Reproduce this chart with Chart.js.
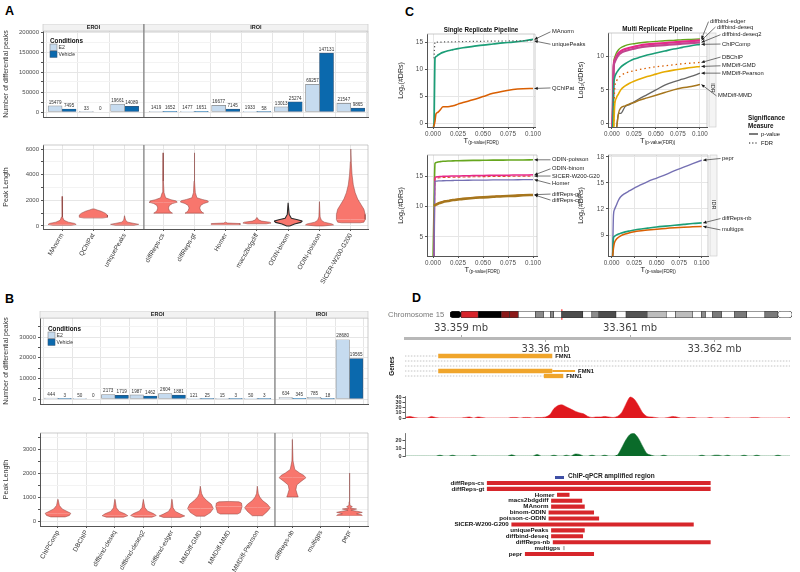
<!DOCTYPE html>
<html>
<head>
<meta charset="utf-8">
<title>Differential peak callers</title>
<script src="https://cdn.jsdelivr.net/npm/chart.js@4.4.1/dist/chart.umd.min.js"></script>
<style>
  body { margin: 0; background: #fff; }
  #page { position: relative; width: 800px; height: 572px; overflow: hidden; font-family: "Liberation Sans", Arial, sans-serif; }
  #page canvas { position: absolute; }
  .tag { position: absolute; font-weight: bold; font-size: 12.5px; line-height: 14px; color: #000; }
  .note { position: absolute; white-space: nowrap; }
</style>
</head>
<body>
<div id="page">
  <div class="tag" style="left:5px;top:4px">A</div>
  <div class="tag" style="left:5px;top:292px">B</div>
  <div class="tag" style="left:405px;top:5px">C</div>
  <div class="tag" style="left:412px;top:291px">D</div>

  <canvas id="aBar" width="373" height="94" style="left:0;top:24px"></canvas>
  <canvas id="aViolin" width="373" height="150" style="left:0;top:140px"></canvas>
  <canvas id="bBar" width="373" height="94" style="left:0;top:311px"></canvas>
  <canvas id="bViolin" width="373" height="144" style="left:0;top:428px"></canvas>

  <canvas id="cSingle" width="205" height="128" style="left:395px;top:18px"></canvas>
  <canvas id="cMulti" width="225" height="136" style="left:575px;top:10px"></canvas>
  <canvas id="cIrLeft" width="205" height="130" style="left:395px;top:145px"></canvas>
  <canvas id="cIrRight" width="225" height="130" style="left:575px;top:145px"></canvas>

  <div class="note" style="left:388px;top:310px;font-size:7.6px;color:#777">Chromosome 15</div>
  <canvas id="dIdeo" width="348" height="11" style="left:448px;top:309px"></canvas>
  <canvas id="dAxis" width="395" height="34" style="left:400px;top:321px"></canvas>
  <canvas id="dGenes" width="410" height="28" style="left:385px;top:352px"></canvas>
  <canvas id="dRed" width="417" height="26" style="left:378px;top:394px"></canvas>
  <canvas id="dGreen" width="417" height="28" style="left:378px;top:430px"></canvas>
  <div style="position:absolute;left:555px;top:476px;width:9px;height:2.5px;background:#3f4fa5"></div>
  <div class="note" style="left:568px;top:472px;font-size:6.5px;font-weight:bold;color:#222">ChIP-qPCR amplified region</div>
  <canvas id="dPeaks" width="415" height="77" style="left:380px;top:480px"></canvas>
</div>
<script>
// ---------- panel A: differential peaks per caller ----------
const aMethods = ['MAnorm', 'QChIPat', 'uniquePeaks', 'diffReps-cs', 'diffReps-gt', 'Homer',
  'macs2bdgdiff', 'ODIN-binom', 'ODIN-poisson', 'SICER-W200-G200'];
const aE2 = [15479, 33, 19661, 1419, 1477, 16677, 1933, 13013, 69257, 21547];
const aVehicle = [7495, 0, 14089, 1652, 1651, 7145, 58, 25274, 147131, 9865];
const aSplit = 3; // first three callers are EROI
// peak length violins: [peak length, half width]
const aViolin = [
  [[60, 0.3], [120, 0.45], [200, 0.4], [300, 0.2], [450, 0.06], [700, 0.02], [1200, 0.008], [2300, 0.003]],
  [[620, 0.3], [680, 0.45], [850, 0.45], [1000, 0.38], [1150, 0.25], [1250, 0.12], [1330, 0.03]],
  [[60, 0.3], [130, 0.45], [200, 0.3], [300, 0.1], [450, 0.03], [800, 0.004]],
  [[1000, 0.3], [1050, 0.26], [1200, 0.2], [1400, 0.17], [1600, 0.2], [1750, 0.3], [1850, 0.45], [1950, 0.42], [2050, 0.25], [2200, 0.08], [2600, 0.03], [3500, 0.012], [5700, 0.003]],
  [[1000, 0.3], [1050, 0.26], [1200, 0.2], [1400, 0.17], [1600, 0.2], [1750, 0.3], [1870, 0.45], [1970, 0.42], [2070, 0.25], [2200, 0.08], [2600, 0.03], [3500, 0.012], [5700, 0.003]],
  [[110, 0.46], [190, 0.46], [230, 0.06], [300, 0.01]],
  [[170, 0.3], [230, 0.45], [300, 0.4], [380, 0.15], [480, 0.05], [650, 0.01]],
  [[0, 0.05], [150, 0.2], [280, 0.4], [380, 0.45], [480, 0.3], [600, 0.1], [900, 0.03], [1800, 0.004]],
  [[0, 0.1], [80, 0.45], [160, 0.4], [300, 0.15], [450, 0.06], [700, 0.02], [1900, 0.003]],
  [[250, 0.3], [300, 0.42], [500, 0.46], [900, 0.46], [1300, 0.42], [1700, 0.32], [2100, 0.22], [2600, 0.14], [3200, 0.08], [4000, 0.04], [5000, 0.015], [6000, 0.003]]
];

// ---------- panel B ----------
const bMethods = ['ChIPComp', 'DBChIP', 'diffbind-deseq', 'diffbind-deseq2', 'diffbind-edger',
  'MMDiff-GMD', 'MMDiff-MMD', 'MMDiff-Pearson', 'diffReps-nb', 'multigps', 'pepr'];
const bE2 = [444, 50, 2173, 1987, 2604, 121, 15, 50, 634, 785, 28680];
const bVehicle = [3, 0, 1719, 1462, 1881, 25, 3, 3, 345, 18, 19565];
const bSplit = 8;
const bViolin = [
  [[170, 0.25], [230, 0.4], [320, 0.45], [400, 0.32], [500, 0.15], [650, 0.05], [900, 0.005]],
  [],
  [[160, 0.3], [220, 0.45], [300, 0.35], [400, 0.15], [550, 0.05], [900, 0.005]],
  [[160, 0.3], [230, 0.45], [310, 0.35], [420, 0.14], [560, 0.05], [900, 0.005]],
  [[150, 0.3], [210, 0.45], [290, 0.3], [400, 0.12], [550, 0.04], [900, 0.005]],
  [[200, 0.15], [350, 0.35], [520, 0.45], [700, 0.38], [850, 0.22], [1000, 0.1], [1150, 0.04], [1450, 0.005]],
  [[290, 0.3], [350, 0.4], [600, 0.46], [750, 0.44], [800, 0.35], [815, 0.01]],
  [[220, 0.18], [400, 0.35], [550, 0.45], [700, 0.35], [850, 0.18], [1000, 0.08], [1150, 0.03], [1450, 0.005]],
  [[1000, 0.2], [1100, 0.17], [1300, 0.12], [1500, 0.15], [1650, 0.3], [1800, 0.47], [1900, 0.4], [2000, 0.25], [2150, 0.08], [2500, 0.02], [3400, 0.005]],
  [],
  [[230, 0.45], [260, 0.42], [300, 0.25], [360, 0.45], [400, 0.3], [450, 0.05], [500, 0.25], [540, 0.03], [600, 0.1], [650, 0.02], [800, 0.015], [2000, 0.004]]
];

// ---------- panel C: log2(#DRs) against threshold ----------
const tGrid = [0, 0.001, 0.002, 0.003, 0.005, 0.0075, 0.01, 0.015, 0.02, 0.025, 0.03, 0.04, 0.05, 0.06, 0.07, 0.08, 0.09, 0.1];
const srMAnorm = [-1, 0, 12, 12.3, 12.6, 12.9, 13.1, 13.4, 13.6, 13.8, 13.95, 14.2, 14.45, 14.65, 14.85, 15.0, 15.2, 15.5];
const srUniquePeaks = [null, 12, 15, 15, 15, 15, 15.02, 15.05, 15.05, 15.08, 15.1, 15.12, 15.15, 15.18, 15.2, 15.22, 15.25, 15.3];
const srQChIPat = [-1, -0.5, 0.3, 1.7, 2.0, 2.5, 3.0, 3.0, 3.2, 3.5, 3.8, 4.3, 4.9, 5.5, 5.9, 6.2, 6.35, 6.4];

const mrEdger = [-1, 3, 9.0, 9.8, 10.5, 11.0, 11.3, 11.6, 11.8, 11.9, 12.0, 12.15, 12.25, 12.35, 12.4, 12.5, 12.55, 12.6];
const mrDeseq = [-1, 2, 8.7, 9.4, 10.0, 10.5, 10.8, 11.1, 11.3, 11.45, 11.6, 11.8, 11.9, 12.0, 12.1, 12.2, 12.3, 12.4];
const mrDeseq2 = [-1, 1.5, 8.4, 9.1, 9.7, 10.2, 10.5, 10.8, 11.0, 11.15, 11.3, 11.5, 11.6, 11.7, 11.8, 11.9, 12.0, 12.1];
const mrChIPComp = [-1, 0, 5.5, 6.8, 7.5, 8.0, 8.4, 8.9, 9.3, 9.6, 9.8, 10.2, 10.5, 10.8, 11.1, 11.35, 11.6, 11.8];
const mrDBChIP = [null, null, -1, 5.0, 6.3, 6.8, 7.1, 7.5, 7.7, 7.85, 8.0, 8.25, 8.45, 8.6, 8.75, 8.9, 9.0, 9.1];
const mrGMD = [null, null, -1, 2.5, 3.8, 4.4, 5.0, 5.6, 6.0, 6.3, 6.55, 7.0, 7.35, 7.7, 7.95, 8.15, 8.35, 8.5];
const mrPearson = [null, null, null, null, -1, 1.5, 1.5, 2.5, 2.8, 3.2, 3.6, 4.3, 5.0, 5.7, 6.2, 6.6, 7.0, 7.5];
const mrMMD = [null, null, null, null, -1, 1.5, 2.3, 2.6, 2.9, 3.1, 3.4, 3.8, 4.2, 4.6, 5.0, 5.3, 5.5, 5.8];

const irOdinPoisson = [1, 10, 17.2, 17.35, 17.45, 17.5, 17.55, 17.6, 17.62, 17.65, 17.67, 17.7, 17.72, 17.74, 17.75, 17.77, 17.78, 17.8];
const irOdinBinom = [null, 1, 14.9, 14.95, 15.0, 15.02, 15.05, 15.08, 15.1, 15.12, 15.14, 15.17, 15.2, 15.22, 15.24, 15.26, 15.28, 15.3];
const irSicer = [null, 1, 14.7, 14.75, 14.8, 14.82, 14.85, 14.88, 14.9, 14.92, 14.94, 14.97, 15.0, 15.02, 15.04, 15.06, 15.08, 15.1];
const irHomer = [null, 1, 14.2, 14.25, 14.28, 14.3, 14.32, 14.34, 14.36, 14.38, 14.39, 14.41, 14.43, 14.45, 14.46, 14.47, 14.49, 14.5];
const irDiffRepsGt = [null, 10.2, 10.3, 10.4, 10.55, 10.7, 10.85, 11.0, 11.15, 11.25, 11.35, 11.5, 11.6, 11.7, 11.8, 11.85, 11.95, 12.0];
const irDiffRepsCs = [null, 10.15, 10.25, 10.35, 10.5, 10.65, 10.8, 10.95, 11.1, 11.2, 11.3, 11.45, 11.55, 11.65, 11.75, 11.8, 11.9, 11.95];
const irPepr = [null, 6.5, 11.3, 11.9, 12.4, 13.0, 13.4, 13.8, 14.1, 14.4, 14.65, 15.15, 15.55, 15.95, 16.4, 16.8, 17.2, 17.6];
const irDiffRepsNb = [null, 6.5, 8.7, 8.85, 9.0, 9.12, 9.22, 9.37, 9.48, 9.58, 9.67, 9.8, 9.93, 10.03, 10.13, 10.23, 10.33, 10.4];
const irMultigps = [null, 6.5, 7.5, 8.1, 8.5, 8.75, 8.92, 9.12, 9.27, 9.38, 9.47, 9.58, 9.68, 9.77, 9.84, 9.9, 9.95, 10.0];

// ---------- panel D: FMN1 locus (positions in kb on chr15) ----------
const axisTicksTop = [33359, 33361];
const axisTicksBottom = [33360, 33362];
const bandStart = [0, 3.3, 8.4, 15.3, 17.8, 20.4, 25.5, 27.9, 30, 30.9, 33.3, 39.6, 42.3, 44.4, 49.5, 52.5, 58.8, 64.5, 67.2, 72.3, 75, 76.2, 78.3, 81, 84.9, 88.5, 93.9, 97.8];
const bandEnd = [3.3, 8.4, 15.3, 17.8, 20.4, 25.5, 27.9, 30, 30.9, 33.3, 39.6, 42.3, 44.4, 49.5, 52.5, 58.8, 64.5, 67.2, 72.3, 75, 76.2, 78.3, 81, 84.9, 88.5, 93.9, 97.8, 102];
const bandStain = ['#000000', '#d7242b', '#000000', '#8b1a1a', '#8b1a1a', '#ffffff', '#8c8c8c', '#ffffff', '#8c8c8c', '#ffffff',
  '#4d4d4d', '#ffffff', '#8c8c8c', '#4d4d4d', '#ffffff', '#555555', '#bdbdbd', '#ffffff', '#bdbdbd', '#ffffff',
  '#8c8c8c', '#ffffff', '#7a7a7a', '#ffffff', '#7a7a7a', '#ffffff', '#7a7a7a', '#ffffff'];
const locusMb = [33.3, 33.42];
const geneName = 'FMN1';
const geneExons = [[1, 33358.73, 33360.08], [4, 33358.73, 33360.08], [5, 33359.98, 33360.21]];
const geneUtrs = [[4, 33360.08, 33360.35]];
const geneIntrons = [[1, 33358.3, 33358.73], [2, 33358.3, 33362.95], [3, 33358.3, 33362.95], [4, 33358.3, 33358.73], [5, 33358.3, 33359.98]];
const geneLabelRows = [1, 4, 5];
const covStart = 33358.35, covStep = 0.05;
const covRed = [2, 3, 1, 0, 0, 0, 3, 1, 0, 0, 0, 0, 0, 0, 1, 2, 0, 2, 1, 0, 0, 0, 0, 0, 0, 1, 1, 0, 1, 1,
  0, 1, 1, 2, 6, 18, 24, 25, 21, 17, 13, 10, 8, 3, 1, 2, 2, 3, 2, 1, 3, 10, 26, 40, 36, 24, 10, 3, 2, 1,
  0, 0, 1, 3, 2, 0, 0, 1, 1, 0, 0, 0, 1, 0, 0, 0, 1, 0, 0, 0, 0, 0, 1, 1, 0, 0, 0, 0, 0, 0, 0, 1, 1];
const covGreen = [0, 0, 0, 0, 0, 0, 0, 0, 1, 0, 0, 1, 0, 0, 0, 0, 1, 0, 0, 0, 0, 0, 0, 0, 0, 1.5, 0, 0, 0, 0,
  0, 2, 0, 0, 0, 1, 0, 0, 1, 0, 2.5, 2, 0, 0, 1, 0, 0, 1, 0, 0, 1, 10, 20, 27, 28, 22, 12, 3, 1, 0,
  0, 1, 0, 0, 0, 0, 0, 0, 0, 0, 1, 0, 0, 1, 1, 0, 1, 0, 0, 0, 1, 0, 0, 1, 0, 0, 0, 0, 1, 0, 0, 0, 0];
const peakNames = ['diffReps-cs', 'diffReps-gt', 'Homer', 'macs2bdgdiff', 'MAnorm', 'binom-ODIN', 'poisson-c-ODIN',
  'SICER-W200-G200', 'uniquePeaks', 'diffbind-deseq', 'diffReps-nb', 'multigps', 'pepr'];
const peakStart = [33359.31, 33359.31, 33360.14, 33360.07, 33360.07, 33360.04, 33360.04, 33359.60, 33360.07, 33360.07, 33360.09, 33360.21, 33359.76];
const peakEnd = [33361.95, 33361.95, 33360.28, 33360.43, 33360.46, 33360.57, 33360.63, 33361.75, 33360.46, 33360.44, 33361.95, 33360.225, 33360.57];

// ---------- shared look ----------
const FONT = '"Liberation Sans", Arial, sans-serif';
const GRID = '#e6e6e6', GRID_MINOR = '#f3f3f3', AXIS = '#555555';
const E2_COL = '#c6dbef', VEH_COL = '#0b69ad';
const VIOLIN = '#f8766d';
const TEAL = '#1b9e77', ORANGE = '#d95f02', PURPLE = '#7570b3', PINK = '#e7298a',
  GREEN = '#66a61e', YELLOW = '#e6ab02', BROWN = '#a6761d', GRAY = '#666666';
const gMin = 33358.337, gMax = 33362.893;

Chart.defaults.font.family = FONT;
Chart.defaults.font.size = 6.5;
Chart.defaults.color = '#4d4d4d';
Chart.defaults.animation = false;
Chart.defaults.responsive = false;
Chart.defaults.events = [];
Chart.defaults.plugins.legend.display = false;
Chart.defaults.plugins.tooltip.enabled = false;

const fixW = w => s => { s.width = w; s.paddingTop = 0; s.paddingBottom = 0; };
const fixH = h => s => { s.height = h; s.paddingLeft = 0; s.paddingRight = 0; };
const setTicks = list => s => { s.ticks = list.map(v => ({value: v})); };
const range = (a, b, step) => { const r = []; for (let v = a; v <= b + 1e-9; v += step) r.push(+v.toFixed(6)); return r; };

// facet strips, dividers and light top/right frame
const facetPlugin = {
  id: 'facets',
  afterDraw(chart, args, o) {
    const {ctx, chartArea: a, scales: {x}} = chart;
    const edges = [x.min].concat(o.bounds, [x.max]);
    ctx.save();
    ctx.lineWidth = 0.7;
    ctx.strokeStyle = '#b5b5b5';
    ctx.beginPath();
    ctx.moveTo(a.left, a.top); ctx.lineTo(a.right, a.top); ctx.lineTo(a.right, a.bottom);
    ctx.stroke();
    if (o.strips) {
      o.strips.forEach((lab, i) => {
        const x0 = x.getPixelForValue(edges[i]), x1 = x.getPixelForValue(edges[i + 1]);
        ctx.fillStyle = '#f2f2f2';
        ctx.fillRect(x0, a.top - 7, x1 - x0, 7);
        ctx.strokeStyle = '#c8c8c8';
        ctx.strokeRect(x0, a.top - 7, x1 - x0, 7);
        ctx.fillStyle = '#1a1a1a';
        ctx.font = 'bold 5.5px ' + FONT;
        ctx.textAlign = 'center';
        ctx.textBaseline = 'middle';
        ctx.fillText(lab, (x0 + x1) / 2, a.top - 3.3);
      });
    }
    o.bounds.forEach(b => {
      const px = x.getPixelForValue(b);
      ctx.strokeStyle = '#8a8a8a';
      ctx.lineWidth = 1.4;
      ctx.beginPath();
      ctx.moveTo(px, a.top - (o.strips ? 7 : 0)); ctx.lineTo(px, a.bottom);
      ctx.stroke();
    });
    ctx.restore();
  }
};

const barValues = {
  id: 'barValues',
  afterDatasetsDraw(chart) {
    const {ctx} = chart;
    ctx.save();
    ctx.font = '4.6px ' + FONT;
    ctx.fillStyle = '#333';
    ctx.textAlign = 'center';
    ctx.textBaseline = 'bottom';
    chart.data.datasets.forEach((ds, di) => {
      chart.getDatasetMeta(di).data.forEach((el, i) => ctx.fillText(String(ds.data[i].y), el.x, el.y - 1.2));
    });
    ctx.restore();
  }
};

const condLegend = {
  id: 'condLegend',
  afterDraw(chart, args, o) {
    const {ctx, chartArea: a} = chart;
    const x = a.left + o.dx, y = a.top + o.dy;
    ctx.save();
    ctx.textBaseline = 'middle';
    ctx.fillStyle = '#111';
    ctx.font = 'bold 6.3px ' + FONT;
    ctx.fillText('Conditions', x, y);
    ctx.font = '5.2px ' + FONT;
    chart.data.datasets.forEach((ds, i) => {
      const by = y + 3 + i * 7;
      ctx.fillStyle = ds.backgroundColor;
      ctx.fillRect(x, by, 7, 6.3);
      ctx.strokeStyle = ds.borderColor;
      ctx.lineWidth = 0.6;
      ctx.strokeRect(x, by, 7, 6.3);
      ctx.fillStyle = '#333';
      ctx.fillText(ds.label, x + 8.5, by + 3.2);
    });
    ctx.restore();
  }
};

function facetBars(id, o) {
  const pos = i => i < o.split ? i : i + o.gap;
  const bound = o.split - 0.5 + o.gap / 2;
  const pts = vals => vals.map((v, i) => ({x: pos(i), y: v}));
  return new Chart(document.getElementById(id), {
    type: 'bar',
    data: {
      datasets: [
        {label: 'E2', data: pts(o.e2), backgroundColor: E2_COL, borderColor: '#888888', borderWidth: 0.7},
        {label: 'Vehicle', data: pts(o.veh), backgroundColor: VEH_COL, borderColor: '#35577a', borderWidth: 0.7}
      ]
    },
    options: {
      layout: {padding: {top: 7, right: 5}},
      datasets: {bar: {barThickness: o.barW, borderSkipped: false}},
      scales: {
        x: {
          type: 'linear', min: o.xMin, max: o.xMax, offset: false,
          afterBuildTicks: setTicks(o.names.map((n, i) => pos(i))),
          ticks: {display: false},
          grid: {color: GRID, drawTicks: false},
          border: {color: AXIS, width: 1},
          afterFit: fixH(1)
        },
        y: {
          min: o.yMin, max: o.yMax,
          afterBuildTicks: setTicks(range(0, o.yTop, o.major / 2)),
          ticks: {callback: v => (v % o.major ? '' : String(v)), font: {size: 6}, padding: 2, color: '#4d4d4d', autoSkip: false},
          grid: {color: c => (c.tick && c.tick.value % o.major ? GRID_MINOR : GRID), tickColor: AXIS, tickLength: 2},
          border: {color: AXIS, width: 1},
          title: {display: true, text: 'Number of differential peaks', font: {size: 7}, color: '#333', padding: {top: 2, bottom: 0}},
          afterFit: fixW(o.axisW)
        }
      },
      plugins: {
        facets: {bounds: [bound], strips: ['EROI', 'IROI']},
        condLegend: {dx: o.legendDx, dy: o.legendDy}
      }
    },
    plugins: [facetPlugin, barValues, condLegend]
  });
}

function facetViolins(id, o) {
  const pos = i => i < o.split ? i : i + o.gap;
  const bound = o.split - 0.5 + o.gap / 2;
  const datasets = [];
  o.profiles.forEach((prof, i) => {
    if (!prof.length) return;
    const c = pos(i);
    let k = 0;
    prof.forEach((p, j) => { if (p[1] > prof[k][1]) k = j; });
    const top = prof.slice(k), bottom = prof.slice(0, k + 1);
    const upper = top.map(([y, w]) => ({x: c - w, y})).concat(top.slice().reverse().map(([y, w]) => ({x: c + w, y})));
    const lower = bottom.slice().reverse().map(([y, w]) => ({x: c - w, y})).concat(bottom.map(([y, w]) => ({x: c + w, y})));
    [upper, lower].forEach(d => datasets.push({
      data: d, fill: 'shape', backgroundColor: VIOLIN,
      borderColor: o.names[i] === 'ODIN-binom' ? '#2b2b2b' : '#8a3f3a',
      borderWidth: o.names[i] === 'ODIN-binom' ? 1.1 : 0.5,
      pointRadius: 0, tension: 0
    }));
  });
  return new Chart(document.getElementById(id), {
    type: 'line',
    data: {datasets},
    options: {
      layout: {padding: {top: 5, right: 5}},
      scales: {
        x: {
          type: 'linear', min: o.xMin, max: o.xMax,
          afterBuildTicks: setTicks(o.names.map((n, i) => pos(i))),
          ticks: {callback: (v, i) => o.names[i], autoSkip: false, minRotation: 60, maxRotation: 60, font: {size: 6.5}, color: '#333', padding: 1},
          grid: {color: GRID, tickColor: AXIS, tickLength: 2},
          border: {color: AXIS, width: 1},
          afterFit: fixH(o.xAxisH)
        },
        y: {
          min: o.yMin, max: o.yMax,
          afterBuildTicks: setTicks(range(0, o.yTop, o.major / 2)),
          ticks: {callback: v => (v % o.major ? '' : String(v)), font: {size: 6}, padding: 2, color: '#4d4d4d', autoSkip: false},
          grid: {color: c => (c.tick && c.tick.value % o.major ? GRID_MINOR : GRID), tickColor: AXIS, tickLength: 2},
          border: {color: AXIS, width: 1},
          title: {display: true, text: 'Peak Length', font: {size: 7}, color: '#333', padding: {top: 2, bottom: 0}},
          afterFit: fixW(o.axisW)
        }
      },
      plugins: {facets: {bounds: [bound]}}
    },
    plugins: [facetPlugin]
  });
}

facetBars('aBar', {names: aMethods, e2: aE2, veh: aVehicle, split: aSplit, gap: 0.23, xMin: -0.61, xMax: 9.78,
  yMin: -12500, yMax: 202500, yTop: 200000, major: 50000, barW: 14, axisW: 43, legendDx: 7, legendDy: 10});
facetViolins('aViolin', {names: aMethods, profiles: aViolin, split: aSplit, gap: 0.23, xMin: -0.61, xMax: 9.78,
  yMin: -234, yMax: 6312, yTop: 6000, major: 2000, axisW: 43, xAxisH: 61});
facetBars('bBar', {names: bMethods, e2: bE2, veh: bVehicle, split: bSplit, gap: 0.23, xMin: -0.63, xMax: 10.88,
  yMin: -2419, yMax: 39194, yTop: 35000, major: 10000, barW: 13.5, axisW: 40, legendDx: 8, legendDy: 11});
facetViolins('bViolin', {names: bMethods, profiles: bViolin, split: bSplit, gap: 0.23, xMin: -0.63, xMax: 10.88,
  yMin: -208, yMax: 3667, yTop: 3500, major: 1000, axisW: 40, xAxisH: 46});

// ---------- panel C helpers ----------
function arrowTo(ctx, x0, y0, x1, y1) {
  ctx.beginPath(); ctx.moveTo(x0, y0); ctx.lineTo(x1, y1); ctx.stroke();
  const ang = Math.atan2(y1 - y0, x1 - x0), L = 3.6, W = 0.45;
  ctx.beginPath();
  ctx.moveTo(x1, y1);
  ctx.lineTo(x1 - L * Math.cos(ang - W), y1 - L * Math.sin(ang - W));
  ctx.lineTo(x1 - L * Math.cos(ang + W), y1 - L * Math.sin(ang + W));
  ctx.closePath(); ctx.fill();
}

const cDecor = {
  id: 'cDecor',
  afterDraw(chart, args, o) {
    const {ctx, chartArea: a, scales: {x, y}} = chart;
    ctx.save();
    ctx.strokeStyle = '#b5b5b5'; ctx.lineWidth = 0.7;
    ctx.beginPath(); ctx.moveTo(a.left, a.top); ctx.lineTo(a.right, a.top); ctx.lineTo(a.right, a.bottom); ctx.stroke();
    ctx.fillStyle = '#111'; ctx.textBaseline = 'middle';
    if (o.title) {
      ctx.font = 'bold 6.3px ' + FONT; ctx.textAlign = 'center';
      ctx.fillText(o.title, (a.left + a.right) / 2, a.top - 3.5);
    }
    if (o.strip) {
      const sx = a.right + 2;
      ctx.fillStyle = '#f4f4f4'; ctx.fillRect(sx, a.top, 7, a.bottom - a.top);
      ctx.strokeStyle = '#cfcfcf'; ctx.strokeRect(sx, a.top, 7, a.bottom - a.top);
      ctx.save();
      ctx.translate(sx + 3.6, y.getPixelForValue(o.stripAt));
      ctx.rotate(Math.PI / 2);
      ctx.fillStyle = '#222'; ctx.font = '5.5px ' + FONT; ctx.textAlign = 'center';
      ctx.fillText(o.strip, 0, 0);
      ctx.restore();
    }
    // x title T(p-value(FDR))
    const big = '7.5px ' + FONT, small = '4.6px ' + FONT;
    ctx.font = big; const w1 = ctx.measureText('T').width;
    ctx.font = small; const w2 = ctx.measureText('(p-value(FDR))').width;
    const tx = (a.left + a.right) / 2 - (w1 + w2) / 2, ty = a.bottom + 14;
    ctx.fillStyle = '#222'; ctx.textAlign = 'left';
    ctx.font = big; ctx.fillText('T', tx, ty);
    ctx.font = small; ctx.fillText('(p-value(FDR))', tx + w1 + 0.3, ty + 2);
    // caller labels with arrows
    ctx.font = '5.8px ' + FONT; ctx.fillStyle = '#1a1a1a'; ctx.strokeStyle = '#1a1a1a'; ctx.lineWidth = 0.6;
    o.labels.forEach(([text, target, at, dx]) => {
      const tx2 = a.right + dx, ty2 = y.getPixelForValue(at);
      ctx.fillText(text, tx2, ty2);
      arrowTo(ctx, tx2 - 1.5, ty2, x.getPixelForValue(0.1) + 1.5, y.getPixelForValue(target));
    });
    if (o.legend) {
      const lx = o.legend[0], ly = o.legend[1];
      ctx.font = 'bold 6.3px ' + FONT; ctx.fillStyle = '#111';
      ctx.fillText('Significance', lx, ly);
      ctx.fillText('Measure', lx, ly + 8);
      ctx.font = '5.8px ' + FONT;
      ctx.strokeStyle = '#111'; ctx.lineWidth = 1.1;
      ctx.beginPath(); ctx.moveTo(lx + 1, ly + 16); ctx.lineTo(lx + 10, ly + 16); ctx.stroke();
      ctx.setLineDash([1.2, 2]);
      ctx.beginPath(); ctx.moveTo(lx + 1, ly + 25); ctx.lineTo(lx + 10, ly + 25); ctx.stroke();
      ctx.setLineDash([]);
      ctx.fillText('p-value', lx + 13, ly + 16);
      ctx.fillText('FDR', lx + 13, ly + 25);
    }
    ctx.restore();
  }
};

function curveChart(id, o) {
  return new Chart(document.getElementById(id), {
    type: 'line',
    data: {
      datasets: o.series.map(s => ({
        data: tGrid.map((t, i) => ({x: t, y: s.values[i]})),
        borderColor: s.color, borderWidth: s.width || 1.5, borderDash: s.dash || [],
        pointRadius: 0, fill: false, cubicInterpolationMode: 'monotone'
      }))
    },
    options: {
      layout: {padding: {top: o.padTop, right: o.padRight}},
      scales: {
        x: {
          type: 'linear', min: o.xMin, max: o.xMax,
          afterBuildTicks: setTicks([0, 0.025, 0.05, 0.075, 0.1]),
          ticks: {callback: v => v.toFixed(3), font: {size: 6.3}, color: '#4d4d4d', padding: 1, maxRotation: 0, autoSkip: false},
          grid: {color: GRID, tickColor: AXIS, tickLength: 2},
          border: {color: AXIS, width: 1},
          afterFit: fixH(19)
        },
        y: {
          min: o.yMin, max: o.yMax,
          afterBuildTicks: setTicks(o.yTicks),
          ticks: {font: {size: 6.5}, color: '#4d4d4d', padding: 2, autoSkip: false},
          grid: {color: GRID, tickColor: AXIS, tickLength: 2},
          border: {color: AXIS, width: 1},
          title: {display: true, text: 'Log\u2082(#DRs)', font: {size: 7}, color: '#222', padding: {top: 2, bottom: 0}},
          afterFit: fixW(o.axisW)
        }
      },
      plugins: {cDecor: o.decor}
    },
    plugins: [cDecor]
  });
}

curveChart('cSingle', {
  xMin: -0.006, xMax: 0.102, yMin: -0.74, yMax: 16.5, yTicks: [0, 5, 10, 15], axisW: 32, padTop: 16, padRight: 65,
  series: [
    {values: srUniquePeaks, color: '#555555', dash: [1.2, 2.4], width: 1.2},
    {values: srQChIPat, color: ORANGE},
    {values: srMAnorm, color: TEAL, width: 1.7}
  ],
  decor: {title: 'Single Replicate Pipeline',
    labels: [['MAnorm', 15.5, 16.9, 17], ['uniquePeaks', 15.2, 14.6, 17], ['QChIPat', 6.4, 6.5, 17]]}
});

curveChart('cMulti', {
  xMin: -0.0045, xMax: 0.108, yMin: -0.55, yMax: 13.5, yTicks: [0, 5, 10], axisW: 33, padTop: 23, padRight: 93,
  series: [
    {values: mrMMD, color: BROWN},
    {values: mrPearson, color: GRAY, width: 1.3},
    {values: mrGMD, color: YELLOW, width: 1.6},
    {values: mrDBChIP, color: ORANGE, dash: [1.5, 3], width: 1.3},
    {values: mrChIPComp, color: TEAL, width: 1.6},
    {values: mrDeseq2, color: '#c2458f', width: 2.2},
    {values: mrDeseq, color: PINK, width: 2.2},
    {values: mrEdger, color: GREEN, width: 1.4}
  ],
  decor: {title: 'Multi Replicate Pipeline', strip: 'IDR', stripAt: 5.3, legend: [173, 108],
    labels: [['diffbind-edger', 12.6, 15.2, 3], ['diffbind-deseq', 12.4, 14.4, 10], ['diffbind-deseq2', 12.1, 13.25, 15],
      ['ChIPComp', 11.8, 11.85, 15], ['DBChIP', 9.1, 9.9, 15], ['MMDiff-GMD', 8.5, 8.6, 15],
      ['MMDiff-Pearson', 7.5, 7.5, 15], ['MMDiff-MMD', 5.8, 4.1, 11]]}
});

curveChart('cIrLeft', {
  xMin: -0.006, xMax: 0.104, yMin: 1.8, yMax: 18.6, yTicks: [5, 10, 15], axisW: 32, padTop: 10, padRight: 63,
  series: [
    {values: irDiffRepsCs, color: BROWN, width: 2.6},
    {values: irDiffRepsGt, color: ORANGE, width: 1.4},
    {values: irHomer, color: PURPLE, width: 1.3},
    {values: irOdinBinom, color: PINK, width: 1.5},
    {values: irSicer, color: '#e34a33', dash: [3, 2], width: 1.1},
    {values: irOdinPoisson, color: GREEN, width: 1.6}
  ],
  decor: {labels: [['ODIN-poisson', 17.8, 17.8, 15], ['ODIN-binom', 15.3, 16.3, 15], ['SICER-W200-G200', 15.1, 15.1, 15],
    ['Homer', 14.5, 13.8, 15], ['diffReps-gt', 12.0, 12.1, 15], ['diffReps-cs', 11.95, 11.1, 15]]}
});

curveChart('cIrRight', {
  xMin: -0.0041, xMax: 0.107, yMin: 6.6, yMax: 18.2, yTicks: [9, 12, 15, 18], axisW: 33, padTop: 10, padRight: 92,
  series: [
    {values: irMultigps, color: ORANGE, width: 1.5},
    {values: irDiffRepsNb, color: TEAL, width: 1.6},
    {values: irPepr, color: PURPLE, width: 1.4}
  ],
  decor: {strip: 'IDR', stripAt: 12.5,
    labels: [['pepr', 17.6, 17.8, 14], ['diffReps-nb', 10.4, 10.9, 14], ['multigps', 10.0, 9.6, 14]]}
});

// ---------- panel D ----------
new Chart(document.getElementById('dIdeo'), {
  type: 'bar',
  data: {
    labels: ['chr15'],
    datasets: [
      {data: bandStart.map((s, i) => ({x: [s, bandEnd[i]], y: 'chr15'})), backgroundColor: bandStain,
        borderColor: '#333', borderWidth: 0.6, borderSkipped: false, barThickness: 6.5,
        borderRadius: c => (c.dataIndex === 0 || c.dataIndex === bandStart.length - 1 ? 3 : 0)},
      {data: [{x: locusMb, y: 'chr15'}], backgroundColor: '#ff1a1a', borderWidth: 0, barThickness: 10}
    ]
  },
  options: {
    indexAxis: 'y',
    layout: {padding: {left: 2, right: 4}},
    datasets: {bar: {grouped: false}},
    scales: {x: {type: 'linear', min: 0, max: 102, display: false}, y: {display: false}}
  }
});

const mbLabel = v => +(v / 1000).toFixed(3) + ' mb';
new Chart(document.getElementById('dAxis'), {
  type: 'scatter',
  data: {datasets: [{data: [], xAxisID: 'x'}, {data: [], xAxisID: 'x2'}]},
  options: {
    layout: {padding: {left: 5, right: 5}},
    scales: {
      x: {type: 'linear', position: 'bottom', min: gMin, max: gMax,
        afterBuildTicks: setTicks(axisTicksBottom),
        ticks: {callback: mbLabel, font: {family: '"DejaVu Sans", sans-serif', size: 10}, color: '#444', padding: 1, maxRotation: 0, autoSkip: false},
        grid: {drawOnChartArea: false, tickLength: 3, tickColor: '#aaa'},
        border: {color: '#b8b8b8', width: 2}, afterFit: fixH(16)},
      x2: {type: 'linear', position: 'top', min: gMin, max: gMax,
        afterBuildTicks: setTicks(axisTicksTop),
        ticks: {callback: mbLabel, font: {family: '"DejaVu Sans", sans-serif', size: 10}, color: '#444', padding: 1, maxRotation: 0, autoSkip: false},
        grid: {drawOnChartArea: false, tickLength: 3, tickColor: '#aaa'},
        border: {color: '#b8b8b8', width: 2}, afterFit: fixH(17)},
      y: {display: false}
    }
  }
});

const geneDecor = {
  id: 'geneDecor',
  afterDatasetsDraw(chart) {
    const {ctx, scales: {x, y}} = chart;
    ctx.save();
    ctx.font = 'bold 5.8px ' + FONT; ctx.fillStyle = '#111'; ctx.textBaseline = 'middle';
    geneLabelRows.forEach(r => {
      const ends = geneExons.concat(geneUtrs).filter(g => g[0] === r).map(g => g[2]);
      ctx.fillText(geneName, x.getPixelForValue(Math.max(...ends)) + 3, y.getPixelForValue(r));
    });
    ctx.translate(7.5, 14);
    ctx.rotate(-Math.PI / 2);
    ctx.textAlign = 'center';
    ctx.font = 'bold 6.3px ' + FONT;
    ctx.fillText('Genes', 0, 0);
    ctx.restore();
  }
};
const seg = (list, style) => list.map(([r, s, e]) => Object.assign({data: [{x: s, y: r}, {x: e, y: r}], pointRadius: 0, borderCapStyle: 'butt'}, style));
new Chart(document.getElementById('dGenes'), {
  type: 'line',
  data: {
    datasets: [].concat(
      seg(geneIntrons, {borderColor: '#b5b5b5', borderWidth: 0.8, borderDash: [1.5, 1.5]}),
      seg(geneUtrs, {borderColor: '#f0a52b', borderWidth: 2}),
      seg(geneExons, {borderColor: '#f0a52b', borderWidth: 4.3})
    )
  },
  options: {
    layout: {padding: {left: 20, right: 5}},
    scales: {
      x: {type: 'linear', min: gMin, max: gMax, display: false},
      y: {type: 'linear', min: 0.2, max: 5.8, reverse: true, display: false}
    }
  },
  plugins: [geneDecor]
});

function coverage(id, values, color, yMax, ticks, padTop) {
  return new Chart(document.getElementById(id), {
    type: 'line',
    data: {datasets: [{
      data: values.map((v, i) => ({x: covStart + i * covStep, y: v})),
      borderColor: color, backgroundColor: color, borderWidth: 0.5, fill: 'origin', pointRadius: 0, tension: 0.25
    }]},
    options: {
      layout: {padding: {top: padTop, bottom: 2, right: 5}},
      scales: {
        x: {type: 'linear', min: gMin, max: gMax, display: false},
        y: {min: 0, max: yMax, afterBuildTicks: setTicks(ticks),
          ticks: {font: {size: 5.5, weight: 'bold'}, color: '#333', padding: 1, autoSkip: false},
          grid: {drawOnChartArea: false, tickLength: 2.5, tickColor: '#555'},
          border: {color: '#555', width: 0.8},
          afterFit: fixW(27)}
      }
    }
  });
}
coverage('dRed', covRed, '#e0181e', 42, [0, 10, 20, 30, 40], 2);
coverage('dGreen', covGreen, '#0a6b2a', 28.75, [0, 10, 20], 3);

const peakLabels = {
  id: 'peakLabels',
  afterDatasetsDraw(chart) {
    const {ctx} = chart;
    ctx.save();
    ctx.font = 'bold 6.2px ' + FONT; ctx.fillStyle = '#111'; ctx.textAlign = 'right'; ctx.textBaseline = 'middle';
    chart.getDatasetMeta(0).data.forEach((el, i) => ctx.fillText(chart.data.labels[i], Math.min(el.x, el.base) - 3, el.y));
    ctx.restore();
  }
};
new Chart(document.getElementById('dPeaks'), {
  type: 'bar',
  data: {
    labels: peakNames,
    datasets: [{data: peakStart.map((s, i) => [s, peakEnd[i]]),
      backgroundColor: peakNames.map(n => (n === 'multigps' ? '#bdbdbd' : '#d7262b')), barThickness: 3.4, borderSkipped: false}]
  },
  options: {
    indexAxis: 'y',
    layout: {padding: {left: 25, right: 5}},
    scales: {x: {type: 'linear', min: gMin, max: gMax, display: false}, y: {display: false}}
  },
  plugins: [peakLabels]
});
</script>
</body>
</html>
